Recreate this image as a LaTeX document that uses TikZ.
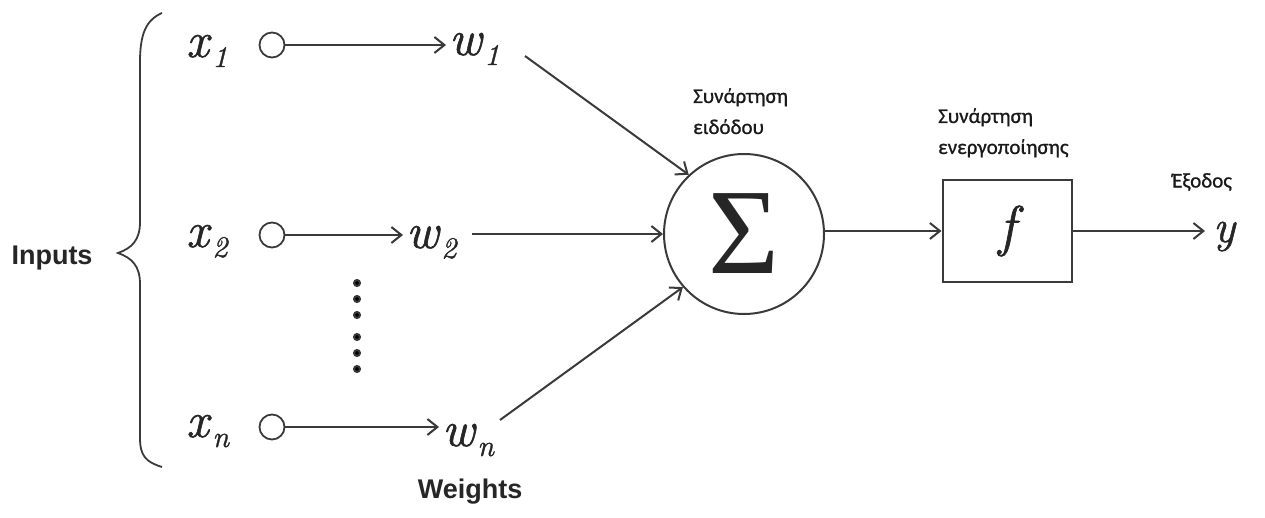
\documentclass[tikz,border=0pt]{standalone}
\usepackage{fontspec}
\newfontfamily\serfont{Liberation Serif}
\newfontfamily\vfont[FakeBold=1.2]{Latin Modern Roman}
\newfontfamily\grfont[FakeBold=0.9]{Carlito}
\newfontfamily\arfont{Liberation Sans}
\usetikzlibrary{arrows.meta}
\definecolor{ln}{HTML}{3A3A3A}
\newcommand\myvar[2]{\textit{#1}\kern1pt\raisebox{-10pt}{\fontsize{30}{30}\selectfont\textit{#2}}}
\tikzset{
  ln/.style={draw=ln,line width=2pt},
  arr/.style={ln,-{Straight Barb[length=10pt,width=16pt,line width=2pt]}},
  inc/.style={circle,ln,line width=1.8pt,minimum size=25pt,inner sep=0pt},
  var/.style={inner sep=0pt,anchor=base west,text=black!85,font=\vfont\fontsize{50}{60}\selectfont},
  grtxt/.style={inner sep=0pt,align=left,text=black!90,font=\grfont\fontsize{21}{31}\selectfont},
  entxt/.style={inner sep=0pt,text=black!85,font=\arfont\bfseries\fontsize{27}{30}\selectfont}
}
\begin{document}
\begin{tikzpicture}[x=1pt,y=-1pt]
\useasboundingbox[fill=white] (0,0) rectangle (1265,518);
% brace
\draw[ln,line width=1.8pt] (162,13) .. controls (146,20) and (140,34) .. (140,62) -- (140,222)
  .. controls (140,240) and (132,248) .. (118,253) .. controls (132,258) and (140,266) .. (140,284)
  -- (140,438) .. controls (140,456) and (146,462) .. (162,467);
\node[entxt] (inputs) at (52,258) {Inputs};
\node[entxt] (weights) at (470,492) {Weights};
% inputs
\node[var] (x1) at (186,57) {\myvar{x}{1}};
\node[var] (x2) at (186,247) {\myvar{x}{2}};
\node[var] (xn) at (186,437) {\myvar{x}{n}};
\node[inc] (c1) at (272,45) {};
\node[inc] (c2) at (272,235) {};
\node[inc] (cn) at (272,427) {};
\node[var] (w1) at (449,55) {\myvar{w}{1}};
\node[var] (w2) at (406,248) {\myvar{w}{2}};
\node[var] (wn) at (442,446) {\myvar{w}{n}};
\draw[arr,shorten >=3pt] (c1) -- (c1 -| w1.west);
\draw[arr,shorten >=3pt] (c2) -- (c2 -| w2.west);
\draw[arr,shorten >=3pt] (cn) -- (cn -| wn.west);
% dots
\foreach \yy in {283,299,315,337,353,369} \fill[ln] (357,\yy) circle (3pt);
% sum
\node[circle,ln,minimum size=160pt,inner sep=0pt,text=black!85,font=\serfont\fontsize{122}{122}\selectfont] (sum) at (744,234) {\raisebox{-6pt}{Σ}};
\coordinate (w1o) at (525,56);
\coordinate (wno) at (500,420);
\draw[arr] (w1o) -- (sum.133);
\draw[arr,shorten <=14pt] (sum.west -| w2.east) -- (sum.west);
\draw[arr] (wno) -- (sum.221);
\node[grtxt,anchor=north west] (lsum) at (693,88) {Συνάρτηση\\ειδόδου};
% activation
\node[rectangle,ln,minimum width=129pt,minimum height=102pt,inner sep=0pt,text=black!85,font=\vfont\fontsize{56}{60}\selectfont\itshape] (box) at (1007,231) {\raisebox{-4pt}{f}};
\draw[arr] (sum.east |- box.west) -- (box.west);
\node[grtxt,anchor=north west] (lbox) at (938,108) {Συνάρτηση\\ενεργοποίησης};
\node[var,font=\vfont\fontsize{46}{60}\selectfont\itshape] (y) at (1213,242) {y};
\draw[arr,shorten >=8pt] (box.east) -- (box.east -| y.west);
\node[grtxt,anchor=west] (lout) at (1172,182) {Έξοδος};
\end{tikzpicture}
\end{document}
